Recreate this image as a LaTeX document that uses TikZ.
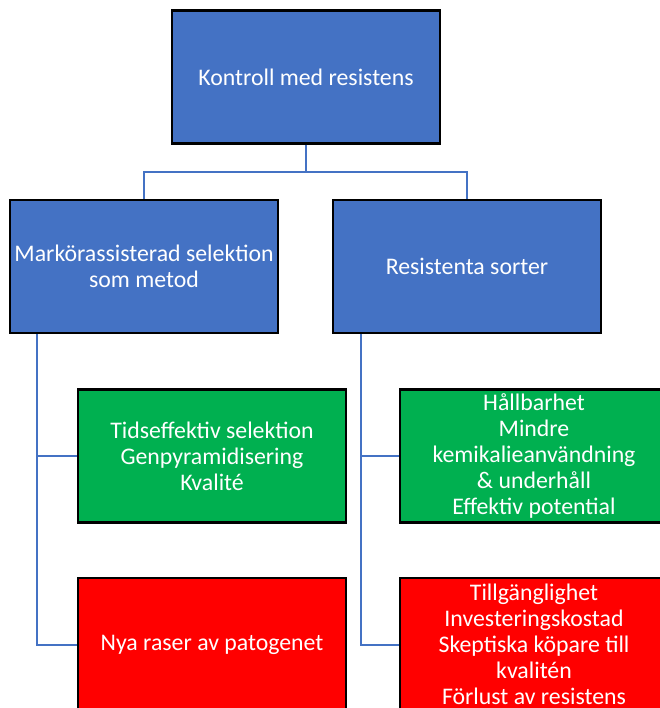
\documentclass[tikz,border=0pt]{standalone}
\usepackage{fontspec}
\setmainfont{Carlito}
\definecolor{hblue}{HTML}{4472C4}
\definecolor{hgreen}{HTML}{00B050}
\definecolor{hred}{HTML}{FF0000}
\begin{document}
\begin{tikzpicture}[x=1pt,y=-1pt,
  box/.style={draw=black, line width=2.5pt, minimum width=268pt, minimum height=133pt,
    inner sep=2pt, align=center, text=white,
    font=\fontsize{23.8}{26}\selectfont},
  headbox/.style={box, fill=hblue},
  prosbox/.style={box, fill=hgreen},
  consbox/.style={box, fill=hred},
  link/.style={draw=hblue, line width=2pt}]
\useasboundingbox (0,0) rectangle (659,708);

% hierarchy
\node[headbox] (top)   at (306,77)    {Kontroll med resistens};
\node[headbox] (mas)   at (144,266.5) {Markörassisterad selektion\\som metod};
\node[headbox] (sort)  at (467,266.5) {Resistenta sorter};

% advantages and drawbacks
\node[prosbox] (masp)  at (212,456)   {Tidseffektiv selektion\\Genpyramidisering\\Kvalité};
\node[prosbox] (sortp) at (534,456)   {Hållbarhet\\Mindre\\kemikalieanvändning\\\& underhåll\\Effektiv potential};
\node[consbox] (masc)  at (212,644.5) {Nya raser av patogenet};
\node[consbox] (sortc) at (534,644.5) {Tillgänglighet\\Investeringskostad\\Skeptiska köpare till\\kvalitén\\Förlust av resistens};

% connectors
\coordinate (split) at (306,172);
\draw[link] (top.south) -- (split) -| (mas.north);
\draw[link] (split) -| (sort.north);

\coordinate (masrail)  at ([xshift=28pt]mas.south west);
\coordinate (sortrail) at ([xshift=29pt]sort.south west);
\draw[link] (masrail) |- (masp.west);
\draw[link] (masrail) |- (masc.west);
\draw[link] (sortrail) |- (sortp.west);
\draw[link] (sortrail) |- (sortc.west);
\end{tikzpicture}
\end{document}
